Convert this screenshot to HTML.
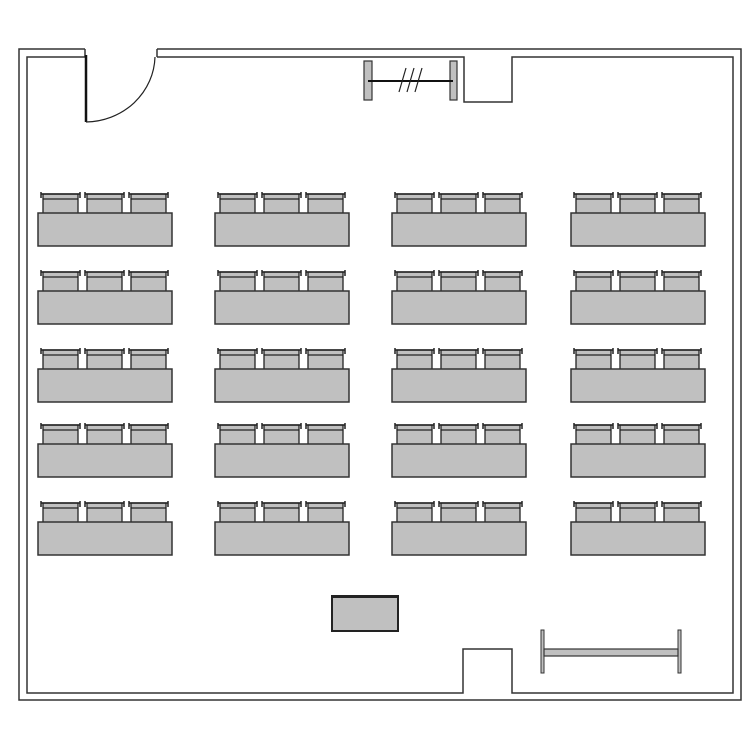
<!DOCTYPE html>
<html><head><style>body{margin:0;background:#fff}</style></head><body>
<svg width="750" height="750" viewBox="0 0 750 750" xmlns="http://www.w3.org/2000/svg">
<defs>
<g id="chair">
<rect x="0" y="0" width="35" height="20" fill="#c0c0c0" stroke="#222" stroke-width="1.3"/>
<line x1="-2" y1="0" x2="37" y2="0" stroke="#222" stroke-width="1.5"/>
<line x1="0" y1="5" x2="35" y2="5" stroke="#222" stroke-width="1.2"/>
<path d="M-2,-2 V4 M37,-2 V4" stroke="#222" stroke-width="1.5" fill="none"/>
</g>
<g id="set">
<use href="#chair" x="5" y="-19"/>
<use href="#chair" x="49" y="-19"/>
<use href="#chair" x="93" y="-19"/>
<rect x="0" y="0" width="134" height="33" fill="#c0c0c0" stroke="#333" stroke-width="1.5"/>
</g>
</defs>
<g fill="none" stroke="#333" stroke-width="1.5">
<!-- outer walls -->
<path d="M85,49 H19 V700 H741 V49 H157"/>
<!-- inner walls -->
<path d="M85,57 H27 V693 H463 V649 H512 V693 H733 V57 H512 V102 H464 V57 H157"/>
<line x1="157" y1="49" x2="157" y2="57"/>
<line x1="85" y1="49" x2="85" y2="57"/>
</g>
<!-- door -->
<line x1="86" y1="55" x2="86" y2="122" stroke="#111" stroke-width="2.5"/>
<path d="M86,122 A70,67 0 0 0 155,57" fill="none" stroke="#222" stroke-width="1.2"/>
<!-- window/screen -->
<rect x="364" y="61" width="8" height="39" fill="#c0c0c0" stroke="#333" stroke-width="1.2"/>
<rect x="450" y="61" width="7" height="39" fill="#c0c0c0" stroke="#333" stroke-width="1.2"/>
<line x1="368" y1="81" x2="453" y2="81" stroke="#111" stroke-width="2"/>
<path d="M399,92 L406,68 M407,92 L414,68 M415,92 L422,68" stroke="#222" stroke-width="1.2"/>
<!-- tables -->
<g>
<use href="#set" x="38" y="213"/><use href="#set" x="215" y="213"/><use href="#set" x="392" y="213"/><use href="#set" x="571" y="213"/>
<use href="#set" x="38" y="291"/><use href="#set" x="215" y="291"/><use href="#set" x="392" y="291"/><use href="#set" x="571" y="291"/>
<use href="#set" x="38" y="369"/><use href="#set" x="215" y="369"/><use href="#set" x="392" y="369"/><use href="#set" x="571" y="369"/>
<use href="#set" x="38" y="444"/><use href="#set" x="215" y="444"/><use href="#set" x="392" y="444"/><use href="#set" x="571" y="444"/>
<use href="#set" x="38" y="522"/><use href="#set" x="215" y="522"/><use href="#set" x="392" y="522"/><use href="#set" x="571" y="522"/>
</g>
<!-- teacher desk -->
<rect x="332" y="596" width="66" height="35" fill="#c0c0c0" stroke="#222" stroke-width="2"/>
<line x1="332" y1="597" x2="398" y2="597" stroke="#222" stroke-width="2"/>
<!-- board -->
<rect x="541" y="630" width="3" height="43" fill="#c0c0c0" stroke="#333" stroke-width="1"/>
<rect x="678" y="630" width="3" height="43" fill="#c0c0c0" stroke="#333" stroke-width="1"/>
<rect x="544" y="649" width="134" height="7" fill="#c0c0c0" stroke="#333" stroke-width="1.2"/>
</svg>
</body></html>
